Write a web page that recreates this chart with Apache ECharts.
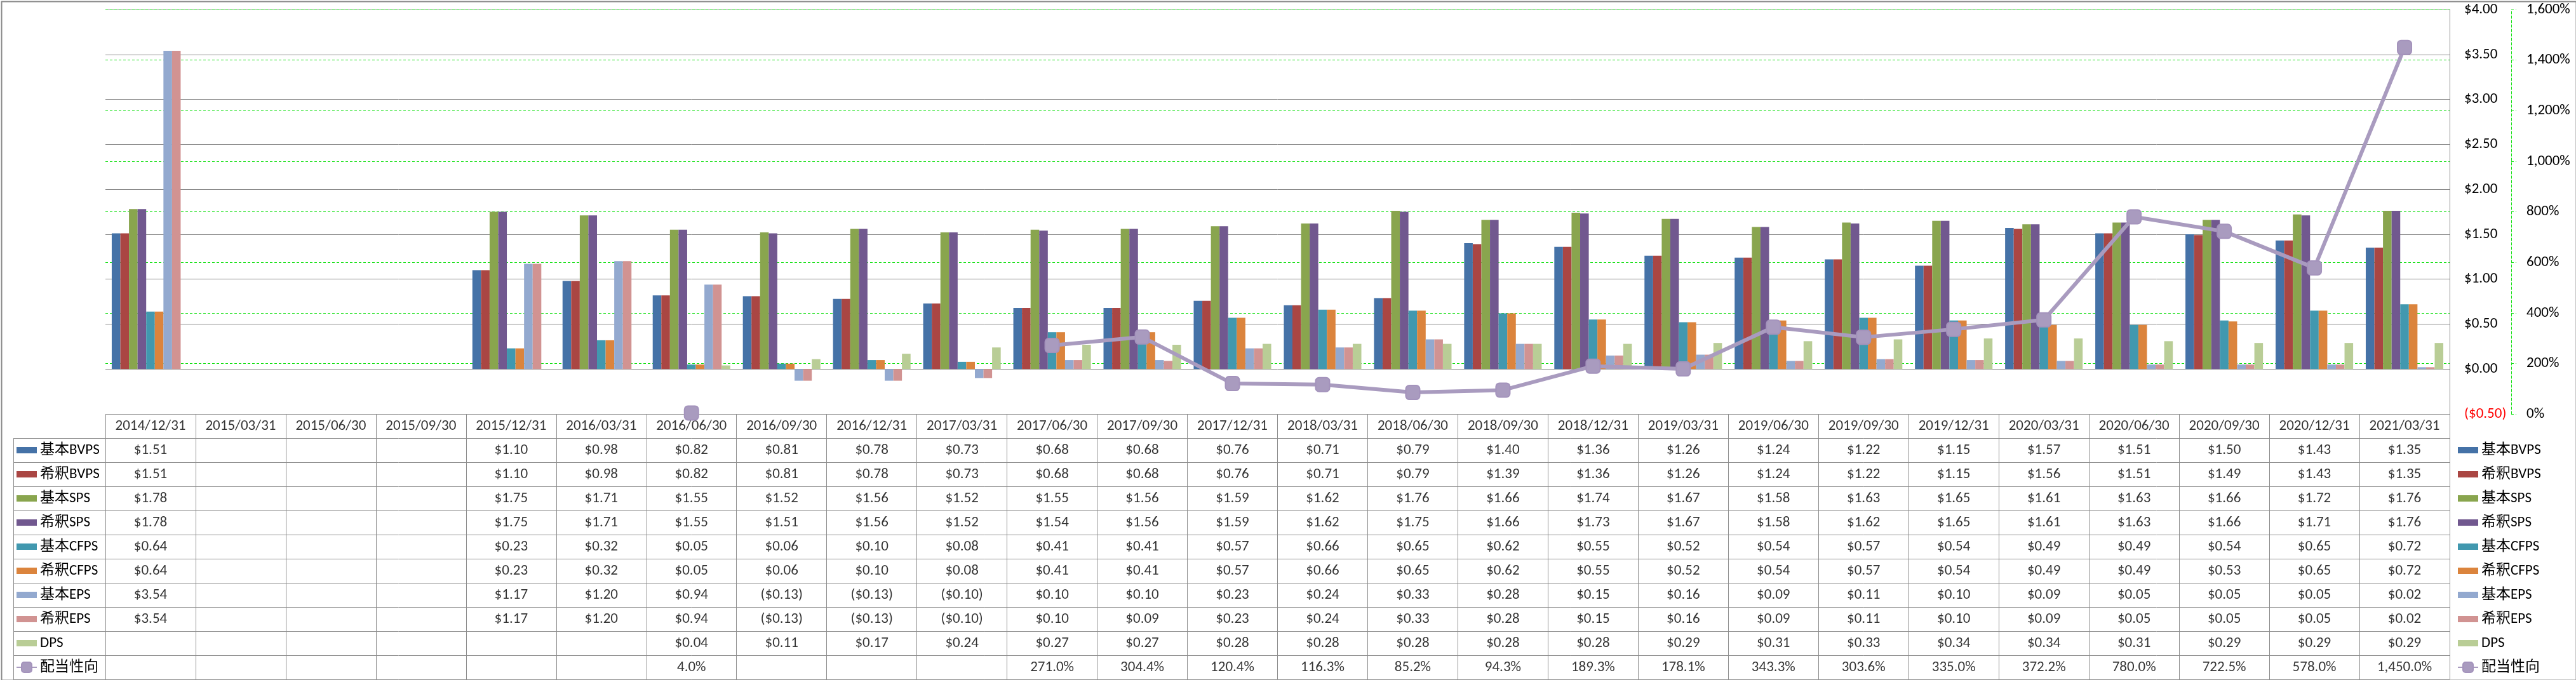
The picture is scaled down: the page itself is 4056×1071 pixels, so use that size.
<!DOCTYPE html>
<html>
<head>
<meta charset="utf-8">
<script src="https://cdn.jsdelivr.net/npm/echarts@6/dist/echarts.min.js"></script>
<style>
html,body{margin:0;padding:0;background:#fff;}
#chart{width:4056px;height:1071px;}
</style>
</head>
<body>
<div id="chart"></div>
<script>
// ---------- data ----------
const categories = ['2014/12/31','2015/03/31','2015/06/30','2015/09/30','2015/12/31','2016/03/31','2016/06/30','2016/09/30','2016/12/31','2017/03/31','2017/06/30','2017/09/30','2017/12/31','2018/03/31','2018/06/30','2018/09/30','2018/12/31','2019/03/31','2019/06/30','2019/09/30','2019/12/31','2020/03/31','2020/06/30','2020/09/30','2020/12/31','2021/03/31'];
const bvpsBasic   = [1.51,null,null,null,1.10,0.98,0.82,0.81,0.78,0.73,0.68,0.68,0.76,0.71,0.79,1.40,1.36,1.26,1.24,1.22,1.15,1.57,1.51,1.50,1.43,1.35];
const bvpsDiluted = [1.51,null,null,null,1.10,0.98,0.82,0.81,0.78,0.73,0.68,0.68,0.76,0.71,0.79,1.39,1.36,1.26,1.24,1.22,1.15,1.56,1.51,1.49,1.43,1.35];
const spsBasic    = [1.78,null,null,null,1.75,1.71,1.55,1.52,1.56,1.52,1.55,1.56,1.59,1.62,1.76,1.66,1.74,1.67,1.58,1.63,1.65,1.61,1.63,1.66,1.72,1.76];
const spsDiluted  = [1.78,null,null,null,1.75,1.71,1.55,1.51,1.56,1.52,1.54,1.56,1.59,1.62,1.75,1.66,1.73,1.67,1.58,1.62,1.65,1.61,1.63,1.66,1.71,1.76];
const cfpsBasic   = [0.64,null,null,null,0.23,0.32,0.05,0.06,0.10,0.08,0.41,0.41,0.57,0.66,0.65,0.62,0.55,0.52,0.54,0.57,0.54,0.49,0.49,0.54,0.65,0.72];
const cfpsDiluted = [0.64,null,null,null,0.23,0.32,0.05,0.06,0.10,0.08,0.41,0.41,0.57,0.66,0.65,0.62,0.55,0.52,0.54,0.57,0.54,0.49,0.49,0.53,0.65,0.72];
const epsBasic    = [3.54,null,null,null,1.17,1.20,0.94,-0.13,-0.13,-0.10,0.10,0.10,0.23,0.24,0.33,0.28,0.15,0.16,0.09,0.11,0.10,0.09,0.05,0.05,0.05,0.02];
const epsDiluted  = [3.54,null,null,null,1.17,1.20,0.94,-0.13,-0.13,-0.10,0.10,0.09,0.23,0.24,0.33,0.28,0.15,0.16,0.09,0.11,0.10,0.09,0.05,0.05,0.05,0.02];
const dps         = [null,null,null,null,null,null,0.04,0.11,0.17,0.24,0.27,0.27,0.28,0.28,0.28,0.28,0.28,0.29,0.31,0.33,0.34,0.34,0.31,0.29,0.29,0.29];
const payout      = [null,null,null,null,null,null,4.0,null,null,null,271.0,304.4,120.4,116.3,85.2,94.3,189.3,178.1,343.3,303.6,335.0,372.2,780.0,722.5,578.0,1450.0];

const barNames  = ['基本BVPS','希釈BVPS','基本SPS','希釈SPS','基本CFPS','希釈CFPS','基本EPS','希釈EPS','DPS'];
const barData   = [bvpsBasic,bvpsDiluted,spsBasic,spsDiluted,cfpsBasic,cfpsDiluted,epsBasic,epsDiluted,dps];
const barColors = ['#4572A7','#AA4643','#89A54E','#71588F','#4198AF','#DB843D','#93A9CF','#D19392','#B9CD96'];
const lineName  = '配当性向';
const lineColor = '#A99BBF';

// axis ticks
const leftMin = -0.5, leftMax = 4, leftStep = 0.5;
const rightMin = 0, rightMax = 1600, rightStep = 200;

// ---------- helpers ----------
const FONT = 'Carlito, Lato, "Noto Sans CJK JP", sans-serif';
function fmtMoney(v){ return v < 0 ? '($' + Math.abs(v).toFixed(2) + ')' : '$' + v.toFixed(2); }
function addCommas(s){ return s.replace(/\B(?=(\d{3})+(?!\d))/g, ','); }
function fmtPct1(v){ const p = v.toFixed(1).split('.'); return addCommas(p[0]) + '.' + p[1] + '%'; }

const GRID_GRAY = '#878787';
const TABLE_GRAY = '#8C8C8C';
const GREEN = '#11E011';

const tableRows = ['header'].concat(barNames).concat([lineName]);
const cellData = [];
categories.forEach((c, i) => cellData.push({name: c, value: [i, 0]}));
barData.forEach((arr, r) => arr.forEach((v, i) => { if (v != null) cellData.push({name: fmtMoney(v), value: [i, r + 1]}); }));
payout.forEach((v, i) => { if (v != null) cellData.push({name: fmtPct1(v), value: [i, barNames.length + 1]}); });

const barIcon = 'path://M0,0L0.01,0L0,0.01Z M0,5L32,5L32,15L0,15Z M32,20L31.99,20L32,19.99Z';
const legendData = barNames.map(n => ({name: n, icon: barIcon})).concat([{name: lineName}]);
const legendCommon = {
  orient: 'vertical', padding: 0, itemGap: 0, itemWidth: 32, itemHeight: 20,
  top: 690, selectedMode: false, data: legendData,
  textStyle: {fontSize: 23, lineHeight: 38, color: '#000', fontFamily: FONT}
};

const series = barData.map((arr, k) => ({
  name: barNames[k], type: 'bar', xAxisIndex: 0, yAxisIndex: 0,
  data: arr, barGap: '0%', barCategoryGap: '14%',
  itemStyle: {color: barColors[k]}, emphasis: {disabled: true}
}));
series.push({
  name: lineName, type: 'line', xAxisIndex: 0, yAxisIndex: 1, data: payout,
  connectNulls: false, showAllSymbol: true, symbol: 'roundRect', symbolSize: 22,
  lineStyle: {width: 6, color: lineColor}, itemStyle: {color: lineColor, borderColor: '#A493BC', borderWidth: 2},
  z: 5, emphasis: {disabled: true}
});
series.push({
  name: 'table', type: 'scatter', xAxisIndex: 1, yAxisIndex: 2, data: cellData,
  symbolSize: 1, itemStyle: {color: 'rgba(0,0,0,0)'}, silent: true,
  label: {show: true, position: 'inside', formatter: p => p.name, fontSize: 23, color: '#000', fontFamily: FONT}
});

const hiddenCat = {axisLine: {show: false}, axisTick: {show: false}, axisLabel: {show: false}};
const option = {
  animation: false,
  backgroundColor: '#fff',
  textStyle: {fontFamily: FONT},
  graphic: [{type: 'rect', left: 0, top: 0, silent: true, z: 100,
             shape: {x: 1, y: 1, width: 4054, height: 1069},
             style: {fill: 'none', stroke: '#898989', lineWidth: 2}}],
  grid: [
    {left: 166, width: 3691, top: 15, height: 637},
    {left: 166, width: 3691, top: 652, height: 418},
    {left: 21, width: 145, top: 690, height: 380}
  ],
  legend: [
    Object.assign({left: 25}, legendCommon),
    Object.assign({left: 3869}, legendCommon)
  ],
  xAxis: [
    Object.assign({gridIndex: 0, show: false, type: 'category', data: categories, splitLine: {show: false}}, hiddenCat),
    Object.assign({gridIndex: 1, type: 'category', data: categories, splitLine: {show: true, lineStyle: {color: TABLE_GRAY, width: 1}}}, hiddenCat),
    Object.assign({gridIndex: 2, type: 'category', data: ['k'], splitLine: {show: true, lineStyle: {color: TABLE_GRAY, width: 1}}}, hiddenCat)
  ],
  yAxis: [
    {gridIndex: 0, type: 'value', position: 'right', min: leftMin, max: leftMax, interval: leftStep,
     axisLine: {show: true, lineStyle: {color: GRID_GRAY, width: 1}}, axisTick: {show: false},
     axisLabel: {margin: 23, fontSize: 23, fontFamily: FONT, formatter: v => fmtMoney(Number(v)),
                 color: v => (Number(v) < 0 ? '#FF0000' : '#000')},
     splitLine: {show: true, lineStyle: {color: GRID_GRAY, width: 1}}},
    {gridIndex: 0, type: 'value', position: 'right', offset: 97, min: rightMin, max: rightMax, interval: rightStep,
     axisLine: {show: true, lineStyle: {color: GREEN, width: 1, type: [4, 3]}},
     axisTick: {show: true, length: 8, lineStyle: {color: GREEN, width: 1, type: [4, 3]}},
     axisLabel: {margin: 24, fontSize: 23, fontFamily: FONT, color: '#000', formatter: v => addCommas(String(Math.round(v))) + '%'},
     splitLine: {show: true, lineStyle: {color: GREEN, width: 1, type: [4, 3]}}},
    Object.assign({gridIndex: 1, type: 'category', data: tableRows, inverse: true, splitLine: {show: true, lineStyle: {color: TABLE_GRAY, width: 1}}}, hiddenCat),
    Object.assign({gridIndex: 2, type: 'category', data: tableRows.slice(1), inverse: true, splitLine: {show: true, lineStyle: {color: TABLE_GRAY, width: 1}}}, hiddenCat)
  ],
  series: series
};

const chart = echarts.init(document.getElementById('chart'), null, {renderer: 'canvas'});
chart.setOption(option);
</script>
</body>
</html>
